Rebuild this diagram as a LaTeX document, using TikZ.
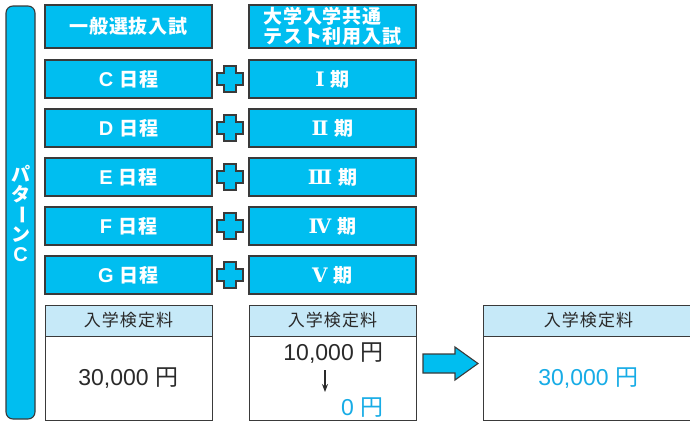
\documentclass[tikz,border=0pt]{standalone}
\usepackage{fontspec}
\setmainfont{Noto Sans CJK JP}
\newfontfamily\jpsp{Noto Sans CJK JP}[LetterSpace=5]
\newfontfamily\jphd{Noto Sans CJK JP}[LetterSpace=6]
\newfontfamily\lat{Liberation Sans}
\newfontfamily\rom{DejaVu Serif}
\usetikzlibrary{arrows.meta}
\definecolor{cy}{HTML}{00BEF0}
\definecolor{lb}{HTML}{C6E9F8}
\definecolor{bd}{HTML}{3A3A3A}
\definecolor{bt}{HTML}{17ACE6}
\definecolor{tx}{HTML}{2A2A2A}
\tikzset{
  crossmark/.pic={\draw[pic actions] (-6,-13) -- (6,-13) -- (6,-6) -- (13,-6) -- (13,6) -- (6,6) -- (6,13) -- (-6,13) -- (-6,6) -- (-13,6) -- (-13,-6) -- (-6,-6) -- cycle;}
}
\begin{document}
\begin{tikzpicture}[x=1pt,y=-1pt,
  cybox/.style={draw=bd,fill=cy,line width=1.1pt,minimum width=167pt,minimum height=38pt,inner sep=0pt,text=white,font=\jpsp\bfseries\fontsize{19}{20}\selectfont},
  hdbox/.style={draw=bd,fill=lb,line width=0.9pt,minimum height=31pt,inner sep=0pt,text=tx,font=\jphd\fontsize{17}{20}\selectfont},
  bodybox/.style={draw=bd,fill=white,line width=0.9pt,minimum height=84pt,inner sep=0pt,text=tx,font=\fontsize{23}{26}\selectfont},
  feetxt/.style={inner sep=0pt,font=\fontsize{23}{26}\selectfont},
  vt/.style={inner sep=0pt,text=white,font=\bfseries\fontsize{19}{20}\selectfont},
  plusmark/.style={draw=bd,fill=cy,line width=1.1pt},
  blockarrow/.style={draw=bd,fill=cy,line width=1.1pt}
]
\useasboundingbox (0,0) rectangle (690,421);
% left bar
\node[draw=bd,fill=cy,line width=1.1pt,rounded corners=7pt,minimum width=29pt,minimum height=413pt,inner sep=0pt] (bar) at (20.5,212.5) {};
\node[vt] (v1) at (20.5,174) {パ};
\node[vt] (v2) at (20.5,194) {タ};
\node[vt,rotate=-90] (v3) at (20.5,215) {ー};
\node[vt] (v4) at (20.5,235) {ン};
\node[vt,font=\lat\bfseries\fontsize{20}{20}\selectfont] (v5) at (20.5,255) {C};
% headers
\node[cybox,minimum height=43pt] (g0) at (128.5,26.5) {一般選抜入試};
\node[cybox,minimum height=43pt,align=left,font=\jpsp\bfseries\fontsize{19}{20}\selectfont] (k0) at (332.5,26.5) {大学入学共通\\テスト利用入試};
% rows
\foreach \y/\L/\R [count=\i] in {79/C/Ⅰ,128/D/Ⅱ,177/E/Ⅲ,226/F/Ⅳ,275/G/Ⅴ}{
  \node[cybox] (g\i) at (128.5,\y) {{\lat\bfseries\fontsize{20}{20}\selectfont \L}\hspace{6pt}日程};
  \node[cybox] (k\i) at (332.5,\y) {{\rom\bfseries\fontsize{20}{20}\selectfont \R}\hspace{6pt}期};
  \pic[plusmark] at (230,\y) {crossmark};
}
% fee boxes
\node[hdbox,minimum width=167pt] (h1) at (128.5,320.5) {入学検定料};
\node[bodybox,minimum width=167pt] (b1) at (128.5,378) {{\lat 30,000}\hspace{7pt}円};
\node[hdbox,minimum width=167pt] (h2) at (332.5,320.5) {入学検定料};
\node[bodybox,minimum width=167pt] (b2) at (332.5,378) {};
\node[hdbox,minimum width=211pt] (h3) at (588.5,320.5) {入学検定料};
\node[bodybox,minimum width=211pt,text=bt] (b3) at (588.5,378) {{\lat 30,000}\hspace{7pt}円};
% box 2 contents
\node[feetxt,anchor=east,text=tx] (t1) at (384,353) {{\lat 10,000}\hspace{7pt}円};
\coordinate (a1) at (325,370);
\coordinate (a2) at (325,392);
\draw[-{Stealth[length=8pt,width=6pt]},line width=1.3pt,tx] (a1) -- (a2);
\node[feetxt,anchor=east,text=bt] (t2) at (384,408) {{\lat 0}\hspace{7pt}円};
% block arrow
\draw[blockarrow] (423,354) -- (455,354) -- (455,347) -- (478,363.5) -- (455,380) -- (455,373) -- (423,373) -- cycle;
\end{tikzpicture}
\end{document}
